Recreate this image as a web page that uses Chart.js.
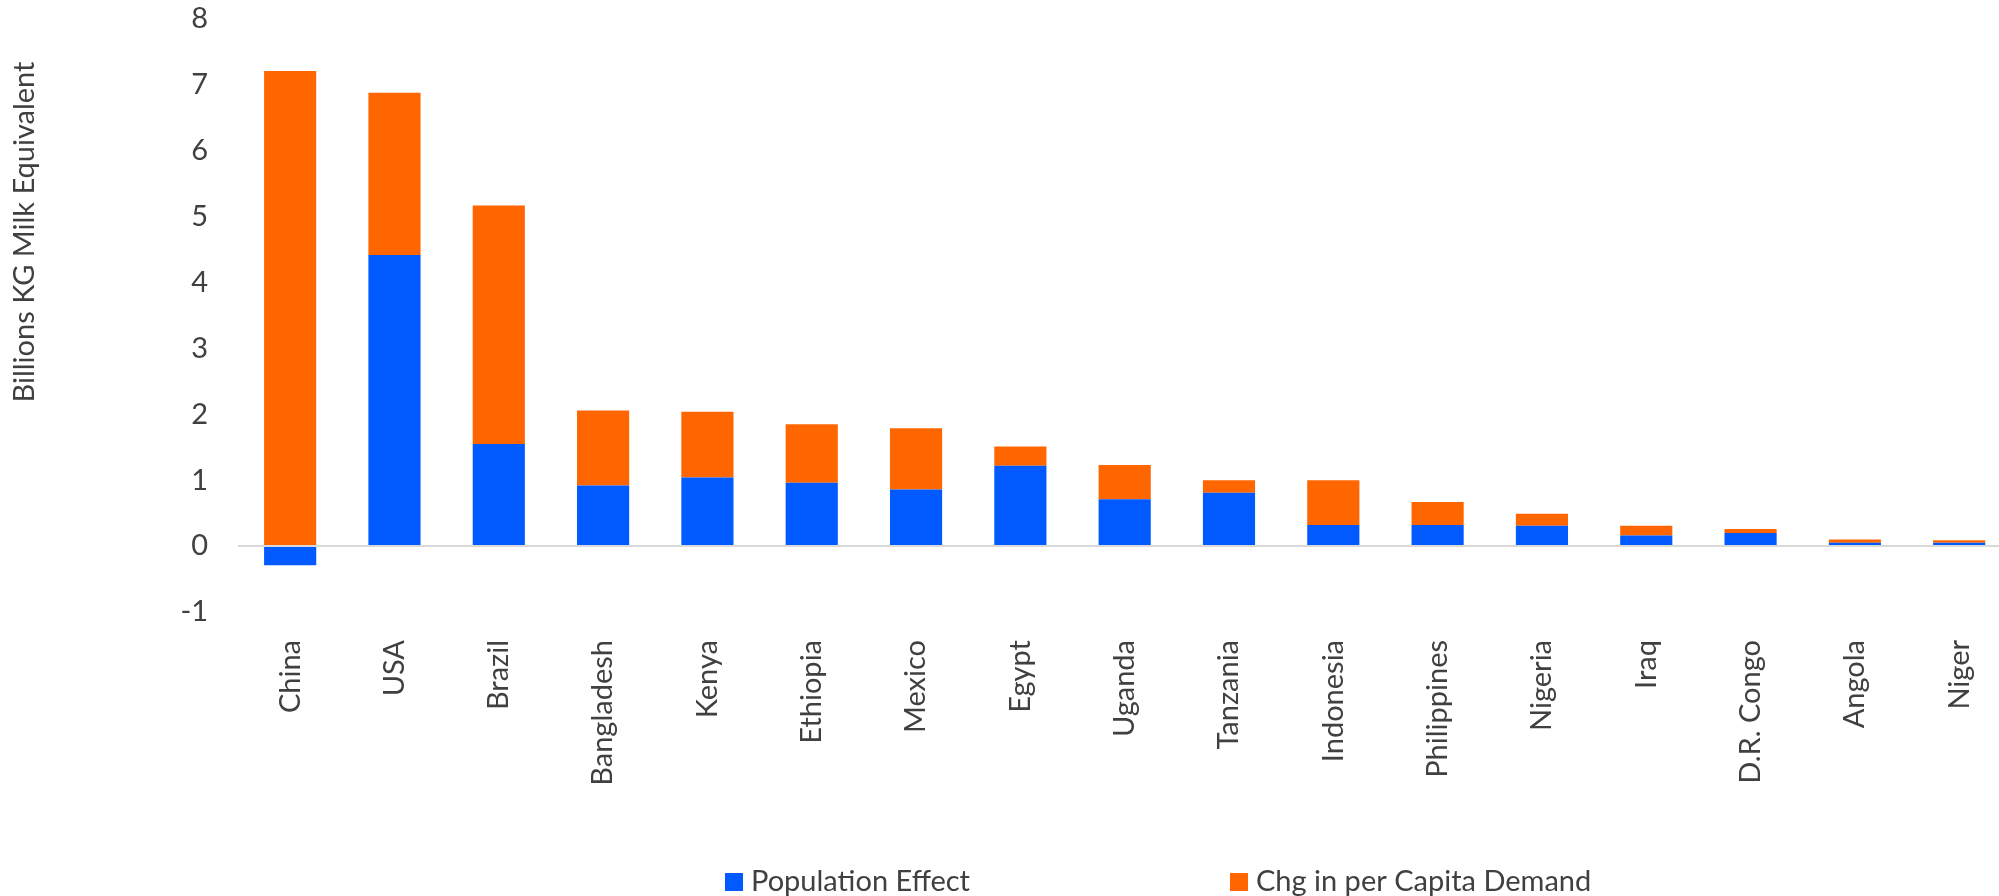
<!DOCTYPE html>
<html>
<head>
<meta charset="utf-8">
<script src="https://cdn.jsdelivr.net/npm/chart.js@4"></script>
<style>
  html, body { margin: 0; padding: 0; background: #fff; overflow: hidden; }
  #wrap { width: 2014px; height: 896px; }
</style>
</head>
<body>
<div id="wrap"><canvas id="demandChart"></canvas></div>
<script>
const countries = ['China', 'USA', 'Brazil', 'Bangladesh', 'Kenya', 'Ethiopia', 'Mexico', 'Egypt',
  'Uganda', 'Tanzania', 'Indonesia', 'Philippines', 'Nigeria', 'Iraq', 'D.R. Congo', 'Angola', 'Niger'];
const populationEffect = [-0.29, 4.42, 1.55, 0.92, 1.04, 0.96, 0.86, 1.22, 0.71, 0.81, 0.32, 0.32, 0.31, 0.16, 0.20, 0.05, 0.05];
const perCapitaChange = [7.21, 2.46, 3.62, 1.14, 1.00, 0.89, 0.93, 0.29, 0.52, 0.19, 0.68, 0.35, 0.18, 0.15, 0.06, 0.05, 0.04];

const FONT = 'Lato, "Open Sans", sans-serif';
const TEXT = '#404040';

// y title and bottom legend are placed by hand
const extras = {
  id: 'extras',
  afterDraw(chart) {
    const ctx = chart.ctx;
    ctx.save();
    ctx.fillStyle = TEXT;
    ctx.font = '29px ' + FONT;
    ctx.textAlign = 'center';
    ctx.textBaseline = 'middle';
    ctx.translate(25, 232);
    ctx.rotate(-Math.PI / 2);
    ctx.fillText('Billions KG Milk Equivalent', 0, 0);
    ctx.restore();

    const spots = [725, 1230];
    ctx.save();
    ctx.font = '29px ' + FONT;
    ctx.textBaseline = 'middle';
    chart.data.datasets.forEach((ds, i) => {
      const x = spots[i];
      ctx.fillStyle = ds.backgroundColor;
      ctx.fillRect(x, 873, 18, 18);
      ctx.fillStyle = TEXT;
      ctx.fillText(ds.label, x + 26, 882);
    });
    ctx.restore();
  }
};

new Chart(document.getElementById('demandChart'), {
  type: 'bar',
  data: {
    labels: countries,
    datasets: [
      { label: 'Population Effect', data: populationEffect, backgroundColor: '#005AFF' },
      { label: 'Chg in per Capita Demand', data: perCapitaChange, backgroundColor: '#FF6600' }
    ]
  },
  options: {
    responsive: true,
    maintainAspectRatio: false,
    animation: false,
    layout: { padding: { top: 19, left: 0, right: 0, bottom: 0 } },
    datasets: { bar: { categoryPercentage: 1, barPercentage: 0.5 } },
    plugins: {
      legend: { display: false },
      tooltip: { enabled: false }
    },
    scales: {
      x: {
        stacked: true,
        grid: { display: false },
        border: { display: false },
        ticks: {
          color: TEXT,
          font: { family: FONT, size: 29 },
          minRotation: 90,
          maxRotation: 90,
          padding: 20
        },
        afterFit(axis) { axis.height = 284; }
      },
      y: {
        stacked: true,
        min: -1,
        max: 8,
        border: { display: false },
        grid: {
          // invisible tick marks keep the labels 30px off the plot
          drawTicks: true,
          tickLength: 30,
          tickColor: 'rgba(0,0,0,0)',
          lineWidth: 2,
          color: (c) => c.tick && c.tick.value === 0 ? '#D9D9D9' : 'rgba(0,0,0,0)'
        },
        ticks: {
          stepSize: 1,
          color: TEXT,
          font: { family: FONT, size: 29 },
          padding: 0
        },
        afterFit(axis) { axis.width = 238; }
      }
    }
  },
  plugins: [extras]
});
</script>
</body>
</html>
